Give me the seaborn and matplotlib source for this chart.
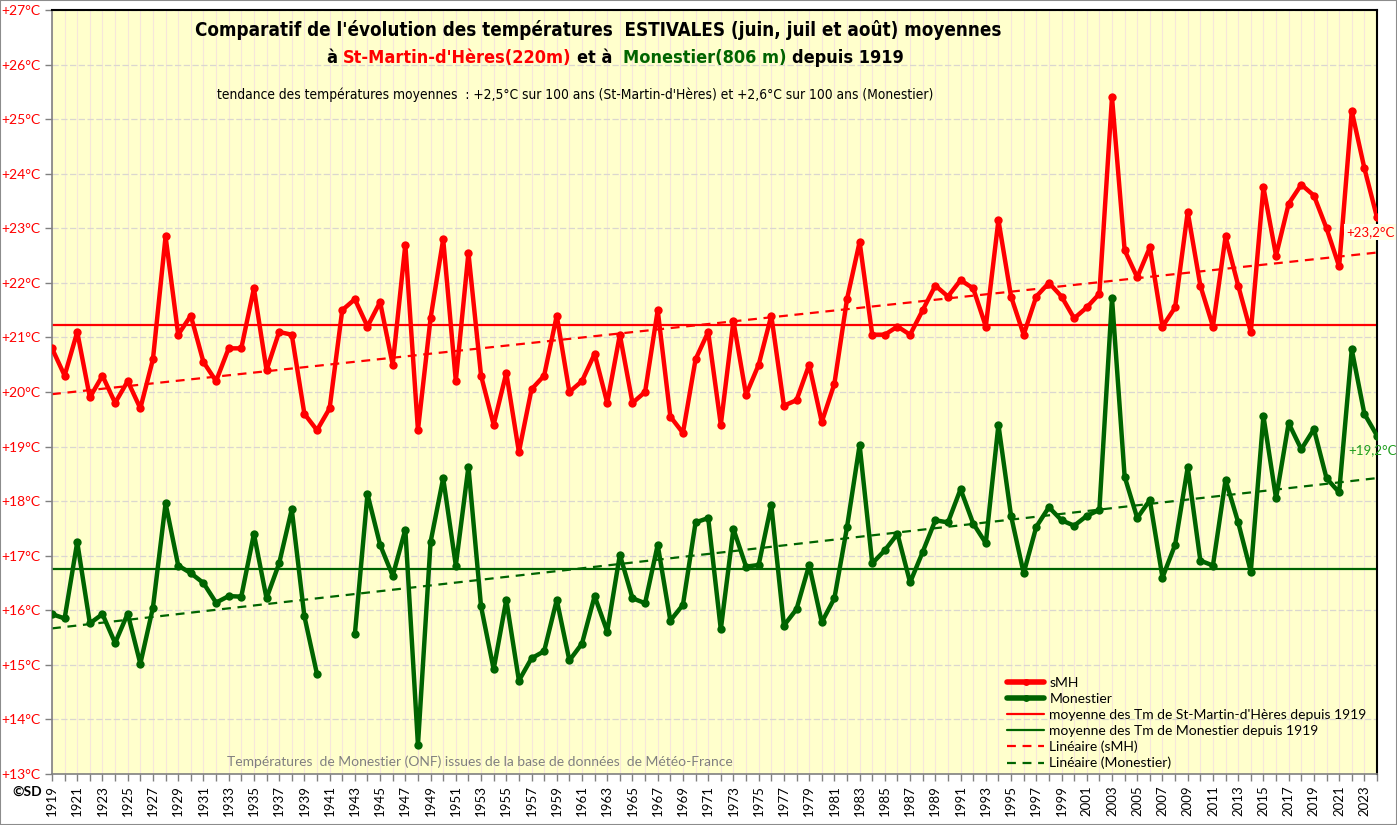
import numpy as np
import pandas as pd
import matplotlib
matplotlib.use("Agg")
import matplotlib.pyplot as plt
import seaborn as sns
from matplotlib.lines import Line2D
from matplotlib.patches import Rectangle

# Summer (JJA) mean temperatures
years = list(range(1919, 2025))

smh = [
    20.8, 20.3, 21.1, 19.9, 20.3, 19.8, 20.2, 19.7, 20.6, 22.85,   # 1919-1928
    21.05, 21.4, 20.55, 20.2, 20.8, 20.8, 21.9, 20.4, 21.1, 21.05,  # 1929-1938
    19.6, 19.3, 19.7, 21.5, 21.7, 21.2, 21.65, 20.5, 22.7, 19.3,    # 1939-1948
    21.35, 22.8, 20.2, 22.55, 20.3, 19.4, 20.35, 18.9, 20.05, 20.3, # 1949-1958
    21.4, 20.0, 20.2, 20.7, 19.8, 21.05, 19.8, 20.0, 21.5, 19.55,   # 1959-1968
    19.25, 20.6, 21.1, 19.4, 21.3, 19.95, 20.5, 21.4, 19.75, 19.85, # 1969-1978
    20.5, 19.45, 20.15, 21.7, 22.75, 21.05, 21.05, 21.2, 21.05, 21.5, # 1979-1988
    21.95, 21.75, 22.05, 21.9, 21.2, 23.15, 21.75, 21.05, 21.75, 22.0, # 1989-1998
    21.75, 21.35, 21.55, 21.8, 25.4, 22.6, 22.1, 22.65, 21.2, 21.55,  # 1999-2008
    23.3, 21.95, 21.2, 22.85, 21.95, 21.1, 23.75, 22.5, 23.45, 23.8,  # 2009-2018
    23.6, 23.0, 22.3, 25.15, 24.1, 23.2,                              # 2019-2024
]

monestier = [
    15.93, 15.85, 17.25, 15.76, 15.93, 15.4, 15.94, 15.02, 16.05, 17.96,  # 1919-1928
    16.82, 16.68, 16.5, 16.14, 16.26, 16.25, 17.4, 16.22, 16.86, 17.85,   # 1929-1938
    15.89, 14.83, None, None, 15.56, 18.13, 17.2, 16.63, 17.48, 13.53,    # 1939-1948
    17.25, 18.42, 16.82, 18.63, 16.07, 14.92, 16.19, 14.71, 15.12, 15.25, # 1949-1958
    16.19, 15.08, 15.39, 16.26, 15.61, 17.02, 16.22, 16.13, 17.2, 15.81,  # 1959-1968
    16.1, 17.61, 17.69, 15.65, 17.49, 16.8, 16.83, 17.93, 15.72, 16.02,   # 1969-1978
    16.83, 15.78, 16.22, 17.52, 19.03, 16.86, 17.1, 17.4, 16.51, 17.07,   # 1979-1988
    17.65, 17.61, 18.22, 17.59, 17.23, 19.4, 17.73, 16.68, 17.53, 17.89,  # 1989-1998
    17.65, 17.55, 17.73, 17.84, 21.72, 18.45, 17.69, 18.02, 16.6, 17.2,   # 1999-2008
    18.62, 16.91, 16.82, 18.39, 17.61, 16.71, 19.56, 18.05, 19.43, 18.95, # 2009-2018
    19.32, 18.42, 18.16, 20.78, 19.6, 19.2,                               # 2019-2024
]

# long-term means as drawn on the original (horizontal lines)
mean_smh = 21.23
mean_monestier = 16.76

y_ticks = list(range(13, 28))
label_years = list(range(1919, 2025, 2))

RED = '#FF0000'
GREEN = '#006400'

W, H = 1397, 825


def fx(px):
    return px / W


def fy(py):
    return 1 - py / H


sns.set_style("white")
plt.rcParams['font.family'] = ['Lato', 'DejaVu Sans']
plt.rcParams['text.color'] = 'black'
plt.rcParams['xtick.color'] = 'black'

df_smh = pd.DataFrame({'year': years, 'temp': smh, 'station': 'sMH', 'segment': 'sMH'})
df_mon = pd.DataFrame({'year': years, 'temp': monestier, 'station': 'Monestier'})
df_mon['temp'] = pd.to_numeric(df_mon['temp'])
# two pieces for Monestier so the 1941-1942 gap stays open
df_mon['segment'] = np.where(df_mon['year'] < 1941, 'mon_a', 'mon_b')
data = pd.concat([df_smh, df_mon]).dropna()

fig = plt.figure(figsize=(W / 100, H / 100), dpi=100)
ax = fig.add_axes([fx(52), fy(774), fx(1377) - fx(52), fy(10) - fy(774)])
ax.set_facecolor('#FFFFCC')

# grid: light verticals every year, dashed horizontals every degree
for yr in years:
    ax.axvline(yr, color='#F6E6DA', lw=0.8, zorder=0)
for t in y_ticks:
    ax.axhline(t, color='#DAD7CF', lw=0.9, ls=(0, (5, 2)), zorder=0)

# long-term means
ax.axhline(mean_smh, color=RED, lw=1.6, zorder=2)
ax.axhline(mean_monestier, color=GREEN, lw=1.6, zorder=2)

# linear trends
sns.regplot(data=df_smh, x='year', y='temp', scatter=False, ci=None, ax=ax,
            color=RED, line_kws=dict(ls=(0, (4, 3)), lw=1.6, zorder=2))
sns.regplot(data=df_mon.dropna(), x='year', y='temp', scatter=False, ci=None, ax=ax,
            color=GREEN, line_kws=dict(ls=(0, (4, 3)), lw=1.6, zorder=2))

# yearly series
sns.lineplot(data=data, x='year', y='temp', hue='station', units='segment',
             estimator=None, palette={'sMH': RED, 'Monestier': GREEN},
             lw=3.2, marker='o', markersize=6, markeredgewidth=0,
             legend=False, ax=ax, zorder=3)

ax.set_xlim(1919, 2024)
ax.set_ylim(13, 27)
ax.set_xlabel('')
ax.set_ylabel('')

ax.set_yticks(y_ticks)
ax.set_yticklabels([f'+{t}°C' for t in y_ticks], color=RED, fontsize=10)
ax.set_xticks(years)
ax.set_xticklabels([str(yr) if yr in label_years else '' for yr in years],
                   rotation=90, fontsize=9.5)
ax.tick_params(axis='both', which='major', direction='out', length=5,
               color='#808080', width=1, left=True, bottom=True, pad=3)

for side in ['left', 'bottom']:
    ax.spines[side].set_color('#808080')
    ax.spines[side].set_linewidth(1.2)
for side in ['top', 'right']:
    ax.spines[side].set_color('black')
    ax.spines[side].set_linewidth(1.5)

# end-of-series labels
ax.annotate('+23,2°C', xy=(2024, smh[-1]), xytext=(-31, -15), textcoords='offset pixels',
            ha='left', va='center', color=RED, fontsize=9.5, annotation_clip=False,
            bbox=dict(boxstyle='square,pad=0.15', fc='#FFFFE6', ec='none'))
ax.annotate('+19,2°C', xy=(2024, monestier[-1]), xytext=(-29, -14), textcoords='offset pixels',
            ha='left', va='center', color='#1E9E1E', fontsize=9.5, annotation_clip=False)

# legend
handles = [
    Line2D([], [], color=RED, lw=4, marker='o', ms=5, mew=0),
    Line2D([], [], color=GREEN, lw=4, marker='o', ms=5, mew=0),
    Line2D([], [], color=RED, lw=1.6),
    Line2D([], [], color=GREEN, lw=1.6),
    Line2D([], [], color=RED, lw=1.6, ls=(0, (4, 3))),
    Line2D([], [], color=GREEN, lw=1.6, ls=(0, (4, 3))),
]
labels = [
    'sMH',
    'Monestier',
    "moyenne des Tm de St-Martin-d'Hères depuis 1919",
    'moyenne des Tm de Monestier depuis 1919',
    'Linéaire (sMH)',
    'Linéaire (Monestier)',
]
ax.legend(handles, labels, loc='upper left', bbox_to_anchor=(fx(1000), fy(670)),
          bbox_transform=fig.transFigure, frameon=False, fontsize=10,
          handlelength=2.7, handletextpad=0.35, labelspacing=0.28, borderpad=0)

# titles, in the condensed DejaVu face
title_kw = dict(family=['DejaVu Sans'], fontstretch='condensed')
fig.text(fx(598), fy(30), "Comparatif de l'évolution des températures  ESTIVALES (juin, juil et août) moyennes",
         ha='center', va='center', fontsize=13.5, fontweight='bold', color='black', **title_kw)

# second title line in several colours, laid out piece by piece
pieces = [('à', 'black'), ("St-Martin-d'Hères(220m)", RED), ('et à ', 'black'),
          ('Monestier(806 m)', GREEN), ('depuis 1919', 'black')]
renderer = fig.canvas.get_renderer()
probe = fig.text(0, 0, 'xx', fontsize=13, fontweight='bold', **title_kw)
w_xx = probe.get_window_extent(renderer).width
probe.set_text('x x')
space = probe.get_window_extent(renderer).width - w_xx
probe.remove()
texts = []
widths = []
for s, c in pieces:
    t = fig.text(0, fy(58), s, ha='left', va='center', color=c, fontsize=13,
                 fontweight='bold', **title_kw)
    texts.append(t)
    widths.append(t.get_window_extent(renderer).width)
total = sum(widths) + space * (len(pieces) - 1)
x = 615 - total / 2
for t, w in zip(texts, widths):
    t.set_x(x / W)
    x += w + space

fig.text(fx(575), fy(95), "tendance des températures moyennes  : +2,5°C sur 100 ans (St-Martin-d'Hères) "
         "et +2,6°C sur 100 ans (Monestier)",
         ha='center', va='center', fontsize=9.9, color='black', **title_kw)

fig.text(fx(227), fy(762), 'Températures  de Monestier (ONF) issues de la base de données  de Météo-France',
         ha='left', va='center', fontsize=10, color='#808080')
fig.text(fx(27), fy(792), '©SD', ha='center', va='center', fontsize=10, fontweight='bold')

# thin grey frame round the whole picture
fig.patches.append(Rectangle((0, 0), 1, 1, transform=fig.transFigure, fill=False,
                             ec='#8C8C8C', lw=1.5, zorder=10))

fig.savefig('out.png', dpi=100)
